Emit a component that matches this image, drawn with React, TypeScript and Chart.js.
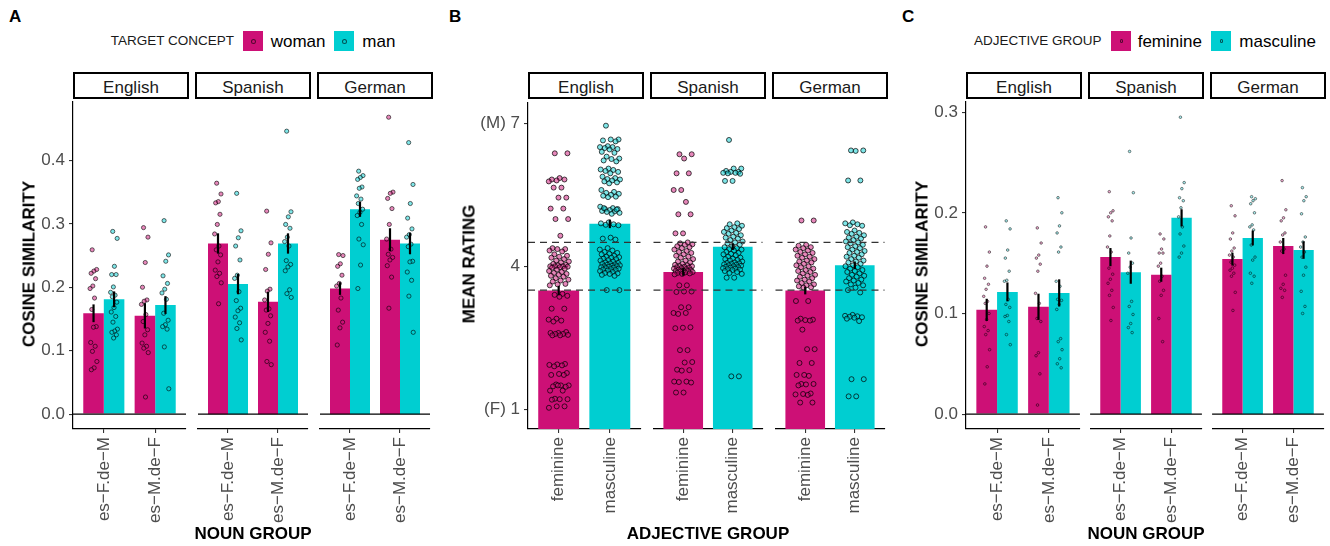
import React, { useEffect, useRef } from "react";
import { Chart, registerables } from "chart.js";

Chart.register(...registerables);
const FONT = "'Liberation Sans', Arial, Helvetica, sans-serif";
Chart.defaults.font.family = FONT;

// ---------------- colours ----------------
const PINK = "#CD1076";
const CYAN = "#00CED1";
const PINK_PT = "rgba(205,16,118,0.5)";
const CYAN_PT = "rgba(0,206,209,0.5)";
const PINK_PT_C = "rgba(205,16,118,0.35)";
const CYAN_PT_C = "rgba(0,206,209,0.35)";
const TICK_COLOR = "#4D4D4D";

// ---------------- categories ----------------
const facetNames = ["English", "Spanish", "German"];
const nounGroups = ["es\u2212F.de\u2212M", "es\u2212M.de\u2212F"];
const adjectiveGroups = ["feminine", "masculine"];
const targetConcepts = ["woman", "man"];

// ---------------- Panel A: cosine similarity (noun group x target concept) ----------------
const aYTicks = [0, 0.1, 0.2, 0.3, 0.4];
const aYTickLabels = ["0.0", "0.1", "0.2", "0.3", "0.4"];
const aYRange = [-0.0234, 0.492];
const aWomanMeans = [[0.159, 0.155], [0.269, 0.177], [0.198, 0.275]];
const aManMeans = [[0.181, 0.172], [0.205, 0.269], [0.323, 0.269]];
const aWomanSE = [[0.014, 0.02], [0.016, 0.016], [0.01, 0.018]];
const aManSE = [[0.0125, 0.014], [0.016, 0.016], [0.012, 0.017]];
const aWomanPoints = [
  [
    [0.259, 0.228, 0.2255, 0.222, 0.2135, 0.202, 0.198, 0.183, 0.165, 0.138, 0.137, 0.113, 0.107, 0.099, 0.083, 0.073, 0.07],
    [0.294, 0.279, 0.239, 0.2, 0.18, 0.178, 0.173, 0.157, 0.146, 0.133, 0.125, 0.112, 0.107, 0.104, 0.097, 0.027],
  ],
  [
    [0.364, 0.347, 0.335, 0.333, 0.315, 0.299, 0.284, 0.265, 0.259, 0.251, 0.24, 0.227, 0.222, 0.217, 0.207, 0.174],
    [0.32, 0.27, 0.252, 0.228, 0.197, 0.194, 0.18, 0.166, 0.164, 0.155, 0.143, 0.129, 0.115, 0.083, 0.078],
  ],
  [
    [0.2515, 0.25, 0.237, 0.233, 0.219, 0.206, 0.202, 0.183, 0.164, 0.145, 0.136, 0.109],
    [0.468, 0.35, 0.348, 0.34, 0.324, 0.299, 0.276, 0.26, 0.252, 0.247, 0.243, 0.234, 0.216, 0.167],
  ],
];
const aManPoints = [
  [
    [0.288, 0.277, 0.233, 0.22, 0.22, 0.2005, 0.192, 0.1875, 0.185, 0.1765, 0.168, 0.161, 0.154, 0.145, 0.134, 0.131, 0.129, 0.125, 0.12],
    [0.305, 0.251, 0.241, 0.218, 0.206, 0.197, 0.191, 0.181, 0.159, 0.148, 0.141, 0.138, 0.134, 0.106, 0.04],
  ],
  [
    [0.348, 0.289, 0.278, 0.265, 0.243, 0.219, 0.214, 0.193, 0.179, 0.167, 0.163, 0.153, 0.144, 0.135, 0.117],
    [0.446, 0.319, 0.311, 0.299, 0.293, 0.279, 0.272, 0.265, 0.242, 0.236, 0.232, 0.226, 0.196, 0.19, 0.184],
  ],
  [
    [0.383, 0.376, 0.373, 0.37, 0.358, 0.356, 0.344, 0.339, 0.332, 0.323, 0.318, 0.313, 0.299, 0.276, 0.267, 0.235, 0.198],
    [0.428, 0.362, 0.332, 0.309, 0.292, 0.283, 0.279, 0.268, 0.264, 0.241, 0.24, 0.224, 0.211, 0.186, 0.129],
  ],
];

// ---------------- Panel B: mean rating (adjective group) ----------------
const bYTicks = [1, 4, 7];
const bYTickLabels = ["(F) 1", "4", "(M) 7"];
const bYRange = [0.585, 7.436];
const bRefLines = [3.5, 4.5];
const bMeans = [[3.49, 4.89], [3.88, 4.41], [3.49, 4.02]];
const bSE = [[0.1, 0.09], [0.08, 0.07], [0.08, 0.08]];
const bFemininePoints = [
  [6.37, 6.37, 5.85, 5.82, 5.82, 5.8, 5.78, 5.65, 5.65, 5.44, 5.44, 5.21, 5.21, 4.99, 4.99, 4.64, 4.38, 4.36, 4.36, 4.33, 4.31,
    4.25, 4.22, 4.2, 4.18, 4.15, 4.12, 4.1, 4.08, 4.05, 4.03, 4.02, 4.0, 4.0, 4.0, 3.99, 3.98, 3.97, 3.95, 3.93, 3.9, 3.88, 3.86,
    3.84, 3.82, 3.8, 3.78, 3.75, 3.72, 3.7, 3.68, 3.63, 3.62, 3.6, 3.42, 3.4, 3.38, 3.36, 3.11, 3.11, 2.9, 2.88, 2.86, 2.84, 2.62,
    2.6, 2.6, 2.58, 2.58, 2.56, 2.55, 2.55, 1.95, 1.94, 1.93, 1.92, 1.9, 1.76, 1.74, 1.72, 1.72, 1.52, 1.5, 1.5, 1.48, 1.47, 1.5,
    1.39, 1.39, 1.22, 1.21, 1.21, 1.2, 1.06, 1.06, 1.03],
  [6.35, 6.35, 6.26, 5.95, 5.95, 5.6, 5.6, 5.35, 5.09, 5.09, 4.69, 4.69, 4.5, 4.48, 4.46, 4.45, 4.42, 4.4, 4.38, 4.35, 4.32, 4.3,
    4.28, 4.25, 4.22, 4.2, 4.18, 4.15, 4.12, 4.1, 4.08, 4.05, 4.03, 4.02, 4.0, 4.0, 3.99, 3.98, 3.97, 3.96, 3.95, 3.94, 3.93, 3.92,
    3.91, 3.9, 3.9, 3.89, 3.88, 3.87, 3.86, 3.85, 3.84, 3.83, 3.6, 3.6, 3.47, 3.47, 3.46, 3.14, 3.14, 3.02, 3.02, 3.0, 2.72, 2.71,
    2.7, 2.24, 2.24, 1.99, 1.98, 1.83, 1.82, 1.81, 1.58, 1.58, 1.57, 1.56, 1.35, 1.35],
  [4.96, 4.96, 4.45, 4.43, 4.4, 4.38, 4.35, 4.33, 4.3, 4.28, 4.25, 4.22, 4.2, 4.18, 4.15, 4.12, 4.1, 4.08, 4.05, 4.02, 4.0, 3.98,
    3.95, 3.92, 3.9, 3.88, 3.85, 3.82, 3.8, 3.78, 3.75, 3.72, 3.7, 3.68, 3.65, 3.62, 3.6, 3.58, 3.56, 3.55, 3.27, 3.27, 2.9, 2.88,
    2.87, 2.86, 2.86, 2.67, 2.26, 2.26, 1.97, 1.97, 1.72, 1.72, 1.7, 1.53, 1.53, 1.52, 1.5, 1.33, 1.32, 1.31, 1.3, 1.14, 1.14],
];
const bMasculinePoints = [
  [6.95, 6.66, 6.66, 6.64, 6.62, 6.52, 6.5, 6.5, 6.48, 6.46, 6.45, 6.4, 6.38, 6.3, 6.26, 6.25, 6.22, 6.2, 6.05, 6.03, 6.02, 6.0,
    5.98, 5.95, 5.88, 5.85, 5.83, 5.82, 5.8, 5.78, 5.76, 5.74, 5.6, 5.56, 5.54, 5.52, 5.5, 5.48, 5.46, 5.45, 5.25, 5.22, 5.2, 5.2,
    5.18, 5.16, 5.15, 5.14, 5.12, 5.1, 5.22, 5.19, 4.92, 4.9, 4.88, 4.87, 4.86, 4.6, 4.58, 4.56, 4.38, 4.35, 4.33, 4.3, 4.28, 4.26,
    4.25, 4.22, 4.2, 4.19, 4.18, 4.16, 4.15, 4.13, 4.12, 4.1, 4.08, 4.07, 4.06, 4.05, 4.04, 4.03, 4.02, 4.01, 4.0, 4.0, 3.99, 3.98,
    3.97, 3.96, 3.95, 3.94, 3.93, 3.92, 3.91, 3.9, 3.88, 3.86, 3.85, 3.84, 3.82, 3.8, 3.5, 3.5],
  [6.65, 6.05, 6.05, 6.0, 5.98, 5.98, 5.96, 5.96, 5.95, 5.94, 5.79, 5.79, 4.9, 4.88, 4.85, 4.82, 4.8, 4.78, 4.75, 4.72, 4.7, 4.68,
    4.65, 4.62, 4.6, 4.58, 4.55, 4.52, 4.5, 4.48, 4.45, 4.42, 4.4, 4.38, 4.36, 4.35, 4.33, 4.3, 4.28, 4.26, 4.25, 4.23, 4.2, 4.18,
    4.16, 4.15, 4.13, 4.12, 4.1, 4.08, 4.07, 4.06, 4.05, 4.04, 4.03, 4.02, 4.01, 4.0, 3.99, 3.98, 3.97, 3.96, 3.95, 3.94, 3.93,
    3.92, 3.9, 3.88, 3.86, 3.84, 3.76, 3.76, 1.69, 1.69],
  [6.43, 6.43, 6.42, 5.8, 5.8, 4.92, 4.9, 4.88, 4.86, 4.85, 4.75, 4.72, 4.7, 4.68, 4.65, 4.62, 4.6, 4.58, 4.55, 4.52, 4.5, 4.48,
    4.45, 4.42, 4.4, 4.38, 4.35, 4.32, 4.3, 4.28, 4.25, 4.22, 4.2, 4.18, 4.15, 4.12, 4.1, 4.08, 4.05, 4.02, 4.0, 3.98, 3.95, 3.92,
    3.9, 3.88, 3.85, 3.82, 3.8, 3.78, 3.75, 3.72, 3.7, 3.68, 3.65, 3.62, 3.6, 3.55, 3.5, 3.45, 2.98, 2.96, 2.95, 2.94, 2.93, 2.92,
    2.9, 2.85, 1.63, 1.63, 1.27, 1.27],
];

// ---------------- Panel C: cosine similarity (noun group x adjective group) ----------------
const cYTicks = [0, 0.1, 0.2, 0.3];
const cYTickLabels = ["0.0", "0.1", "0.2", "0.3"];
const cYRange = [-0.0148, 0.311];
const cFemMeans = [[0.1036, 0.1066], [0.156, 0.1385], [0.154, 0.167]];
const cMascMeans = [[0.1214, 0.1204], [0.141, 0.195], [0.175, 0.163]];
const cFemSE = [[0.011, 0.013], [0.009, 0.007], [0.0064, 0.008]];
const cMascSE = [[0.0094, 0.0135], [0.0115, 0.0085], [0.0074, 0.0087]];
const cFemPoints = [
  [
    [0.186, 0.161, 0.147, 0.135, 0.129, 0.124, 0.117, 0.112, 0.11, 0.1, 0.094, 0.087, 0.083, 0.079, 0.064, 0.047, 0.03],
    [0.185, 0.17, 0.158, 0.155, 0.149, 0.142, 0.12, 0.11, 0.095, 0.092, 0.061, 0.058, 0.04, 0.009],
  ],
  [
    [0.221, 0.202, 0.2, 0.196, 0.192, 0.177, 0.166, 0.161, 0.145, 0.139, 0.134, 0.13, 0.123, 0.118, 0.106, 0.093],
    [0.179, 0.174, 0.164, 0.16, 0.16, 0.15, 0.147, 0.137, 0.132, 0.123, 0.118, 0.095, 0.072],
  ],
  [
    [0.207, 0.197, 0.18, 0.174, 0.165, 0.162, 0.158, 0.156, 0.151, 0.148, 0.145, 0.143, 0.14, 0.137, 0.121, 0.103],
    [0.232, 0.203, 0.195, 0.192, 0.18, 0.178, 0.171, 0.164, 0.162, 0.138, 0.129, 0.125, 0.123, 0.116],
  ],
];
const cMascPoints = [
  [
    [0.192, 0.184, 0.163, 0.155, 0.142, 0.133, 0.132, 0.114, 0.109, 0.106, 0.098, 0.097, 0.092, 0.079, 0.069],
    [0.215, 0.2, 0.187, 0.18, 0.166, 0.161, 0.132, 0.127, 0.114, 0.113, 0.109, 0.104, 0.075, 0.072, 0.064, 0.055, 0.05, 0.046],
  ],
  [
    [0.261, 0.22, 0.175, 0.16, 0.15, 0.146, 0.14, 0.112, 0.107, 0.099, 0.09, 0.086, 0.081],
    [0.295, 0.23, 0.224, 0.215, 0.212, 0.205, 0.196, 0.186, 0.179, 0.167, 0.16, 0.156],
  ],
  [
    [0.216, 0.214, 0.212, 0.209, 0.2, 0.188, 0.186, 0.183, 0.168, 0.156, 0.153, 0.14, 0.137, 0.13],
    [0.225, 0.216, 0.212, 0.199, 0.176, 0.171, 0.166, 0.161, 0.156, 0.146, 0.138, 0.122, 0.107, 0.1],
  ],
];

// ---------------- layout (pixels) ----------------
const FACET_W = 116;
const FACET_GAP = 6;
const PLOT_TOP = 99;
const PLOT_H = 330;
const X_AXIS_H = 100;
const Y_AXIS_W = 60;
const STRIP_TOP = 72;
const STRIP_H = 27;

// deterministic horizontal spread for the jittered points (display only)
function spread(k: number, w: number) {
  const f = (k * 0.6180339887 + 0.31) % 1;
  return (f - 0.5) * 2 * w;
}

function buildConfig(spec: any, showY: boolean) {
  const datasets: any[] = [];
  spec.barSets.forEach((b: any) => {
    datasets.push({
      type: "bar",
      data: b.means.map((m: number, i: number) => ({ x: i + 1, y: m })),
      backgroundColor: b.colors,
      borderWidth: 0,
      categoryPercentage: 0.8,
      barPercentage: 1,
      order: 2,
    });
  });
  spec.pointSets.forEach((p: any) => {
    const data: any[] = [];
    p.groups.forEach((vals: number[], gi: number) =>
      vals.forEach((v, k) => data.push({ x: gi + 1 + p.dodge + spread(k, spec.jitter), y: v }))
    );
    datasets.push({
      type: "scatter",
      data,
      backgroundColor: p.fill,
      borderColor: spec.ptBorder,
      borderWidth: spec.ptBorderWidth,
      pointRadius: spec.ptRadius,
      pointHoverRadius: spec.ptRadius,
      order: 1,
    });
  });

  const decor = {
    id: "facetDecor",
    afterDatasetsDraw(chart: any) {
      const { ctx, chartArea } = chart;
      const y = chart.scales.y;
      ctx.save();
      spec.hlines.forEach((h: any) => {
        const py = y.getPixelForValue(h.value);
        ctx.beginPath();
        ctx.setLineDash(h.dash);
        ctx.strokeStyle = h.color;
        ctx.lineWidth = h.width;
        ctx.moveTo(chartArea.left, py);
        ctx.lineTo(chartArea.right, py);
        ctx.stroke();
      });
      ctx.setLineDash([]);
      ctx.strokeStyle = "#000";
      ctx.lineWidth = 2.2;
      spec.barSets.forEach((b: any, di: number) => {
        const meta = chart.getDatasetMeta(di);
        meta.data.forEach((el: any, j: number) => {
          const lo = y.getPixelForValue(b.means[j] - b.se[j]);
          const hi = y.getPixelForValue(b.means[j] + b.se[j]);
          ctx.beginPath();
          ctx.moveTo(el.x, lo);
          ctx.lineTo(el.x, hi);
          ctx.stroke();
        });
      });
      ctx.restore();
    },
  };

  const tickFont = { size: 17, family: FONT };
  const grid = {
    display: true,
    drawOnChartArea: false,
    drawTicks: true,
    tickLength: 4,
    offset: false,
    color: "#333333",
    lineWidth: 1.1,
  };
  const border = { display: true, color: "#000000", width: 1.2 };

  return {
    type: "bar",
    data: { datasets },
    options: {
      responsive: false,
      animation: false,
      events: [],
      layout: { padding: 0 },
      plugins: { legend: { display: false }, tooltip: { enabled: false } },
      scales: {
        x: {
          type: "linear",
          min: 0.4,
          max: 2.6,
          offset: false,
          afterBuildTicks: (s: any) => {
            s.ticks = spec.xLabels.map((_: string, i: number) => ({ value: i + 1 }));
          },
          afterFit: (s: any) => {
            s.height = X_AXIS_H;
            s.paddingLeft = 0;
            s.paddingRight = 0;
          },
          ticks: {
            autoSkip: false,
            minRotation: 90,
            maxRotation: 90,
            padding: 4,
            color: TICK_COLOR,
            font: tickFont,
            callback: (_v: any, i: number) => spec.xLabels[i],
          },
          grid,
          border,
        },
        y: {
          type: "linear",
          display: showY,
          min: spec.yRange[0],
          max: spec.yRange[1],
          beginAtZero: false,
          afterBuildTicks: (s: any) => {
            s.ticks = spec.yTicks.map((v: number) => ({ value: v }));
          },
          afterFit: (s: any) => {
            s.width = showY ? Y_AXIS_W : 0;
            s.paddingTop = 0;
            s.paddingBottom = 0;
          },
          ticks: {
            padding: 4,
            color: TICK_COLOR,
            font: tickFont,
            callback: (_v: any, i: number) => spec.yTickLabels[i],
          },
          grid,
          border,
        },
      },
    },
    plugins: [decor],
  };
}

function FacetChart({ spec, index, plotLeft }: any) {
  const ref = useRef<HTMLCanvasElement>(null);
  const showY = index === 0;
  const left = plotLeft + index * (FACET_W + FACET_GAP) - (showY ? Y_AXIS_W : 0);
  const width = FACET_W + (showY ? Y_AXIS_W : 0);
  const height = PLOT_H + X_AXIS_H;
  useEffect(() => {
    const chart = new Chart(ref.current as HTMLCanvasElement, buildConfig(spec, showY) as any);
    return () => chart.destroy();
  }, []);
  return (
    <canvas
      ref={ref}
      width={width}
      height={height}
      style={{ position: "absolute", left, top: PLOT_TOP, width, height }}
    />
  );
}

function Label({ x, y, text, size, bold, anchor, color, rotate }: any) {
  const tx = anchor === "middle" ? "-50%" : anchor === "end" ? "-100%" : "0";
  return (
    <div
      style={{
        position: "absolute",
        left: x,
        top: y,
        transform: rotate ? "translate(-50%,-50%) rotate(-90deg)" : `translate(${tx},-50%)`,
        fontSize: size,
        lineHeight: `${size}px`,
        fontWeight: bold ? 700 : 400,
        color: color || "#000",
        whiteSpace: "nowrap",
        fontFamily: FONT,
      }}
    >
      {text}
    </div>
  );
}

function Swatch({ x, color, dot, dotSize }: any) {
  return (
    <div style={{ position: "absolute", left: x, top: 31, width: 20, height: 20, background: color }}>
      <div
        style={{
          position: "absolute",
          left: 10 - dotSize / 2,
          top: 10 - dotSize / 2,
          width: dotSize,
          height: dotSize,
          boxSizing: "border-box",
          borderRadius: "50%",
          border: "1px solid rgba(0,0,0,0.6)",
          background: dot,
        }}
      />
    </div>
  );
}

function Panel({ plotLeft, specs, xTitle, yTitle, yTitleX, letter, letterX }: any) {
  const width = 3 * FACET_W + 2 * FACET_GAP;
  return (
    <>
      <Label x={letterX} y={16} text={letter} size={17} bold />
      {specs.map((s: any, i: number) => {
        const fl = plotLeft + i * (FACET_W + FACET_GAP);
        return (
          <React.Fragment key={i}>
            <FacetChart spec={s} index={i} plotLeft={plotLeft} />
            <div
              style={{
                position: "absolute",
                left: fl,
                top: STRIP_TOP,
                width: FACET_W,
                height: STRIP_H,
                boxSizing: "border-box",
                border: "2px solid #000",
                background: "#fff",
              }}
            />
            <Label x={fl + FACET_W / 2} y={87} text={facetNames[i]} size={17} anchor="middle" color="#1A1A1A" />
          </React.Fragment>
        );
      })}
      <Label x={plotLeft + width / 2} y={533} text={xTitle} size={17} bold anchor="middle" />
      <Label x={yTitleX} y={264} text={yTitle} size={17} bold rotate />
    </>
  );
}

const hline0 = { value: 0, dash: [], color: "#000000", width: 1.2 };

const specsA = facetNames.map((_, f) => ({
  xLabels: nounGroups,
  yTicks: aYTicks,
  yTickLabels: aYTickLabels,
  yRange: aYRange,
  barSets: [
    { colors: [PINK, PINK], means: aWomanMeans[f], se: aWomanSE[f] },
    { colors: [CYAN, CYAN], means: aManMeans[f], se: aManSE[f] },
  ],
  pointSets: [
    { fill: PINK_PT, groups: aWomanPoints[f], dodge: -0.2 },
    { fill: CYAN_PT, groups: aManPoints[f], dodge: 0.2 },
  ],
  jitter: 0.07,
  ptRadius: 2.1,
  ptBorder: "rgba(0,0,0,0.65)",
  ptBorderWidth: 0.9,
  hlines: [hline0],
}));

const specsB = facetNames.map((_, f) => ({
  xLabels: adjectiveGroups,
  yTicks: bYTicks,
  yTickLabels: bYTickLabels,
  yRange: bYRange,
  barSets: [{ colors: [PINK, CYAN], means: bMeans[f], se: bSE[f] }],
  pointSets: [
    { fill: PINK_PT, groups: [bFemininePoints[f], []], dodge: 0 },
    { fill: CYAN_PT, groups: [[], bMasculinePoints[f]], dodge: 0 },
  ],
  jitter: 0.2,
  ptRadius: 2.5,
  ptBorder: "rgba(0,0,0,0.7)",
  ptBorderWidth: 1,
  hlines: bRefLines.map((v) => ({ value: v, dash: [7, 5], color: "#333333", width: 1.2 })),
}));

const specsC = facetNames.map((_, f) => ({
  xLabels: nounGroups,
  yTicks: cYTicks,
  yTickLabels: cYTickLabels,
  yRange: cYRange,
  barSets: [
    { colors: [PINK, PINK], means: cFemMeans[f], se: cFemSE[f] },
    { colors: [CYAN, CYAN], means: cMascMeans[f], se: cMascSE[f] },
  ],
  pointSets: [
    { fill: PINK_PT_C, groups: cFemPoints[f], dodge: -0.2 },
    { fill: CYAN_PT_C, groups: cMascPoints[f], dodge: 0.2 },
  ],
  jitter: 0.06,
  ptRadius: 1.3,
  ptBorder: "rgba(0,0,0,0.6)",
  ptBorderWidth: 0.8,
  hlines: [hline0],
}));

export default function App() {
  return (
    <div
      style={{
        position: "absolute",
        left: 0,
        top: 0,
        width: 1330,
        height: 546,
        background: "#fff",
        overflow: "hidden",
        fontFamily: FONT,
      }}
    >
      {/* Legend A */}
      <Label x={110.7} y={41.2} text="TARGET CONCEPT" size={13.5} color="#1A1A1A" />
      <Swatch x={243.3} color={PINK} dot={PINK_PT} dotSize={5} />
      <Label x={270.7} y={41} text={targetConcepts[0]} size={17} />
      <Swatch x={334} color={CYAN} dot={CYAN_PT} dotSize={5} />
      <Label x={362.3} y={41} text={targetConcepts[1]} size={17} />

      {/* Legend C */}
      <Label x={974} y={41.2} text="ADJECTIVE GROUP" size={13.5} color="#1A1A1A" />
      <Swatch x={1111.3} color={PINK} dot={PINK_PT_C} dotSize={3.5} />
      <Label x={1137.7} y={41} text={adjectiveGroups[0]} size={17} />
      <Swatch x={1211.3} color={CYAN} dot={CYAN_PT_C} dotSize={3.5} />
      <Label x={1239.3} y={41} text={adjectiveGroups[1]} size={17} />

      <Panel plotLeft={73} specs={specsA} xTitle="NOUN GROUP" yTitle="COSINE SIMILARITY" yTitleX={29.3} letter="A" letterX={9} />
      <Panel plotLeft={528} specs={specsB} xTitle="ADJECTIVE GROUP" yTitle="MEAN RATING" yTitleX={468.5} letter="B" letterX={449} />
      <Panel plotLeft={966} specs={specsC} xTitle="NOUN GROUP" yTitle="COSINE SIMILARITY" yTitleX={921.5} letter="C" letterX={902} />
    </div>
  );
}
